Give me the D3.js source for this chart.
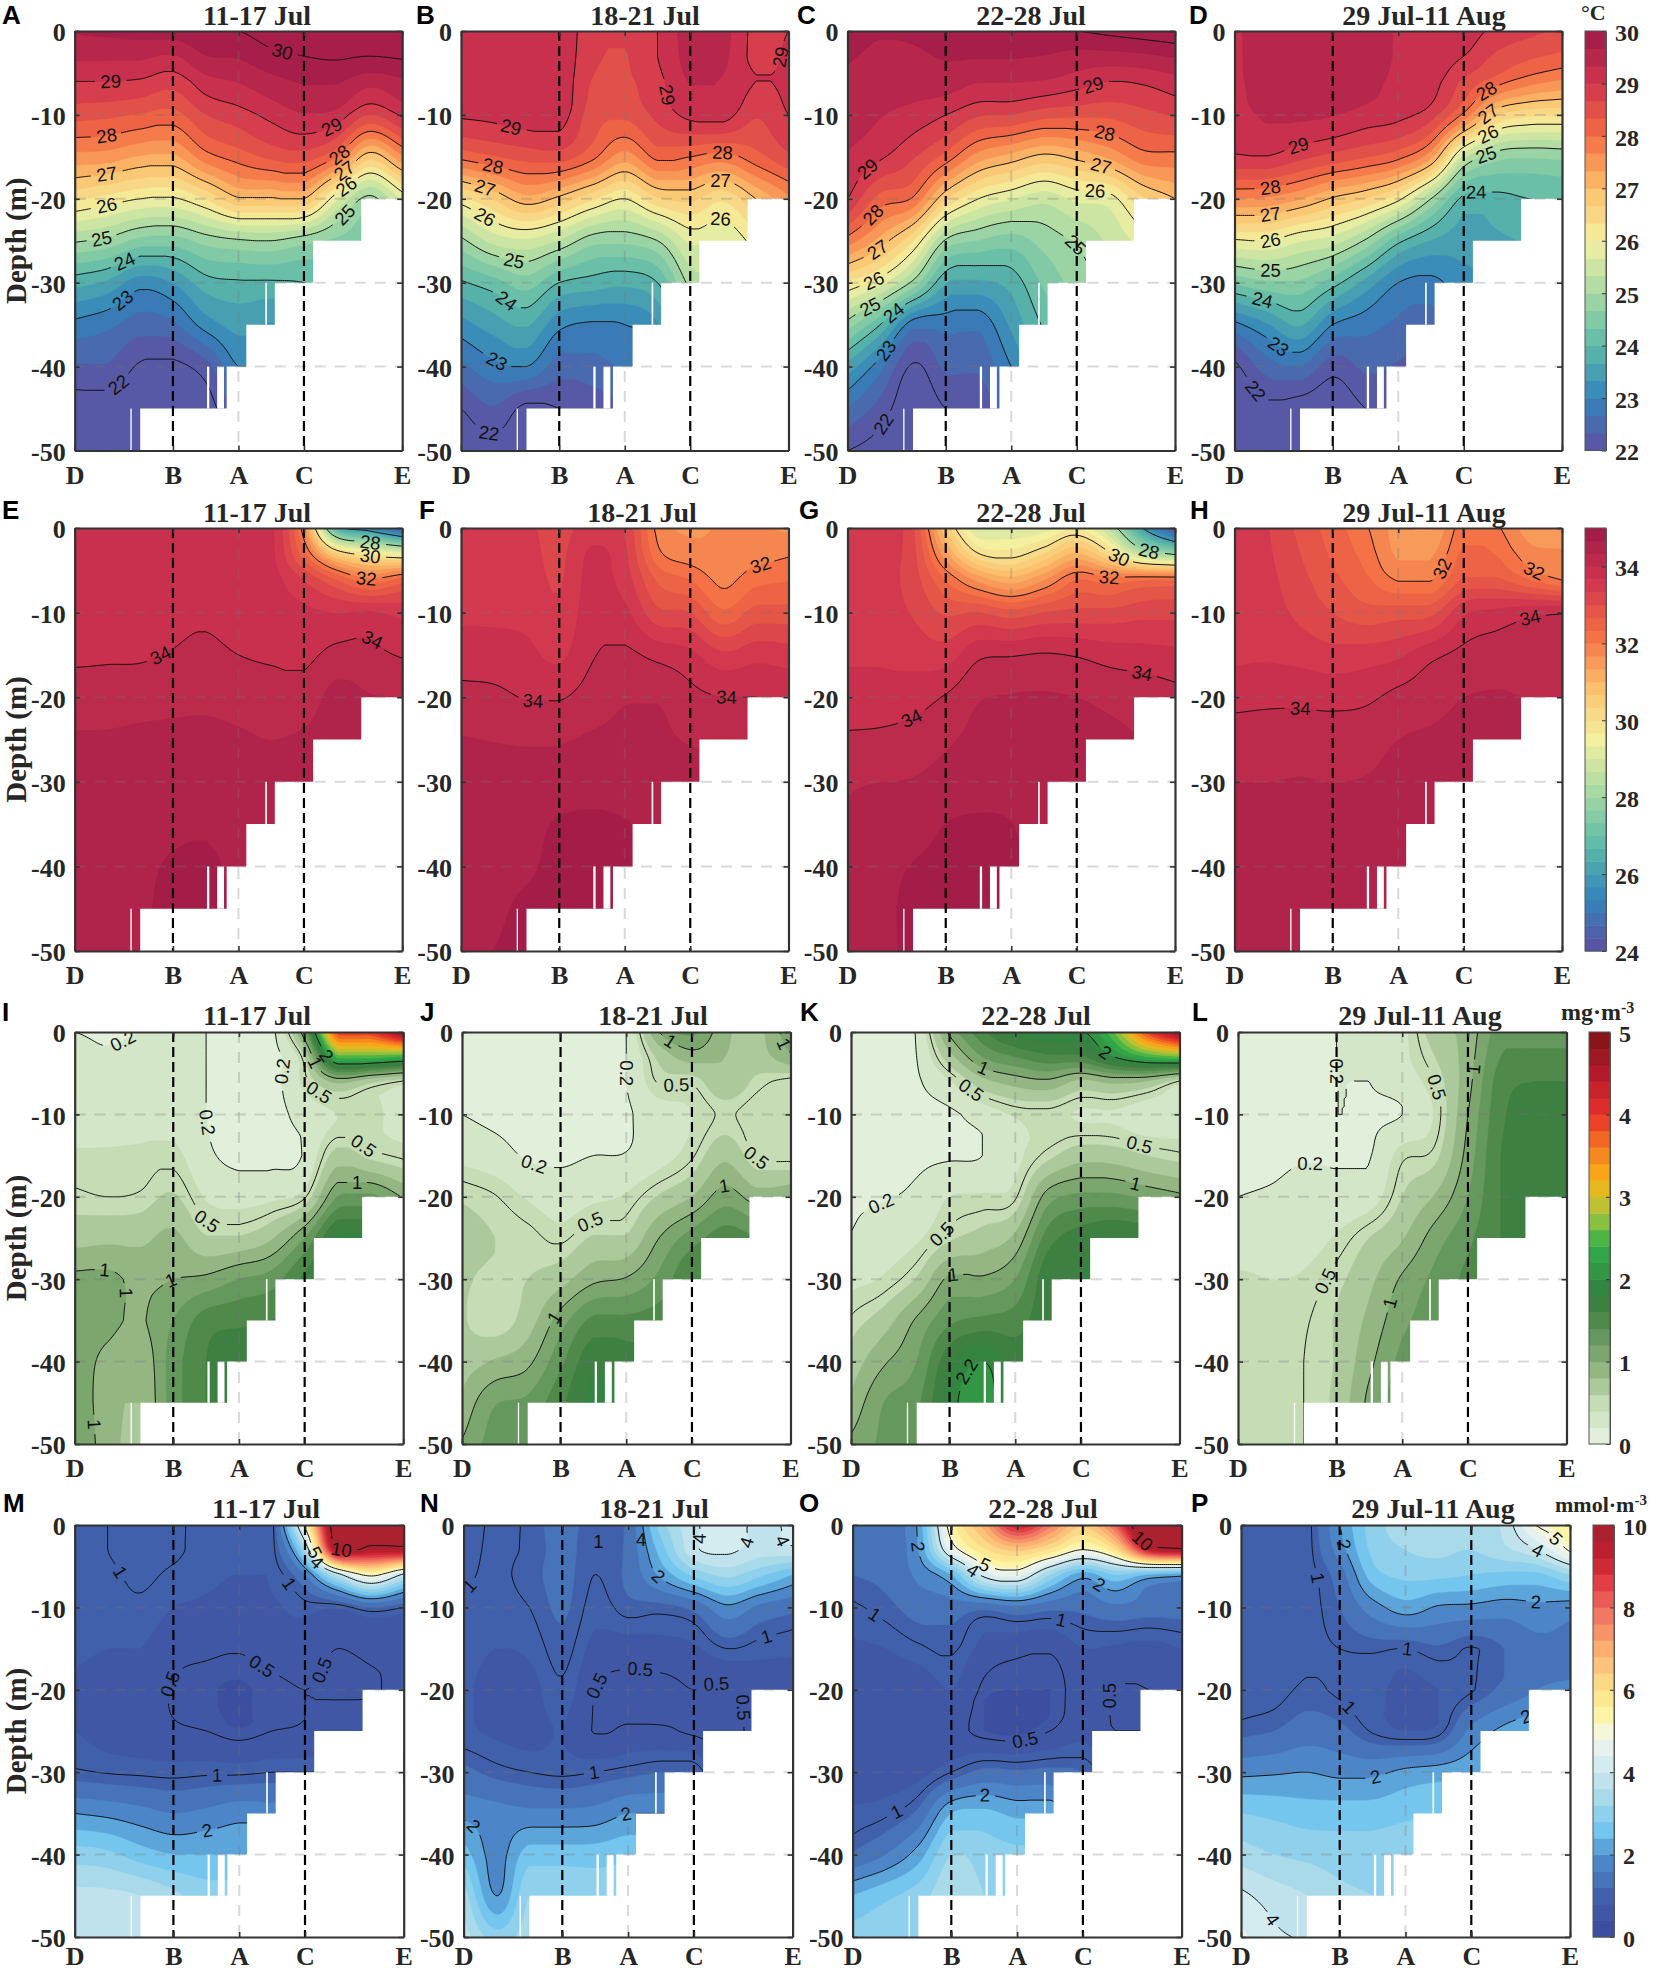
<!DOCTYPE html>
<html>
<head>
<meta charset="utf-8">
<title>Sections</title>
<script src="https://cdn.jsdelivr.net/npm/d3@7"></script>
<style>
  body { margin: 0; background: #fff; }
  svg { display: block; }
  text { font-family: "Liberation Serif", serif; font-weight: bold; fill: #262626; }
  .clabel { font-family: "Liberation Sans", sans-serif; font-weight: normal; font-size: 18.5px; fill: #111; }
  .letter { font-family: "Liberation Sans", sans-serif; font-size: 26px; fill: #000; }
</style>
</head>
<body>
<div id="root"></div>
<script>
// section stations and sampled grid (each panel = one list per column, top to bottom)
const stationX = [0, 30, 50, 70, 100];
const stationNames = ["D", "B", "A", "C", "E"];
const columnX = [0, 10, 20, 30, 40, 50, 60, 70, 80, 90, 100];
const depths = [0, 3, 6, 10, 15, 20, 25, 30, 35, 40, 45, 50];
const depthTicks = [0, -10, -20, -30, -40, -50];
const titles = ["11-17 Jul", "18-21 Jul", "22-28 Jul", "29 Jul-11 Aug"];
const letters = ["ABCD", "EFGH", "IJKL", "MNOP"];

// sea floor steps
const bottomX = [0, 20, 46.4, 52.4, 61.1, 72.8, 87.5, 100];
const bottomDepth = [50, 45, 40, 35, 30, 25, 20, 20];
const gapsX0 = [17, 40.4, 43.5, 58.2];
const gapsX1 = [17.4, 41.1, 45.6, 58.7];
const gapsTop = [45, 40, 40, 30];
const gapsBottom = [50, 45, 45, 35];

// temperature
const tempA = [
  [29.7,29.4,29,28.45,27.55,26.4,25.05,23.8,22.9,22.3,21.8,21.6],
  [29.75,29.4,29,28.4,27.5,26.2,24.9,23.6,22.75,22.3,21.8,21.6],
  [29.8,29.4,28.95,28.3,27.3,26,24.55,23.15,22.5,21.95,21.7,21.6],
  [29.85,29.3,28.8,28.2,27.25,25.95,24.5,23.35,22.6,21.9,21.6,21.5],
  [30,29.65,29.2,28.65,27.85,26.35,24.8,23.85,23.15,22.2,21.8,21.7],
  [30,29.7,29.35,28.85,28.15,26.95,24.95,23.95,23.45,23,22.4,22],
  [30.2,29.9,29.55,29.1,28.4,26.95,25,23.95,23.3,22.8,22.4,22],
  [30.3,30,29.7,29.3,28.5,27,24.8,24,23.5,23,22.6,22.2],
  [30.35,30.05,29.7,29.2,28,25.75,24.6,24.2,23.8,23.4,23,22.6],
  [30.4,30,29.45,28.65,26.8,24.9,24.5,24.2,23.9,23.6,23.3,23],
  [30.4,30.05,29.6,29.05,27.6,25.75,24.9,24.5,24.2,23.9,23.6,23.3]
];
const tempB = [
  [29.25,29.25,29.2,29.05,28.1,26.2,24.9,23.95,23.2,22.6,22,21.7],
  [29.28,29.28,29.25,29.1,28.3,26.7,25.45,24.2,23.5,22.9,22.3,21.8],
  [29.28,29.28,29.28,29.2,28.45,27.2,25.6,24.5,23.7,23,21.9,21.7],
  [29.25,29.25,29.25,29.18,28.5,26.9,25.3,24,23.1,22.5,22,21.7],
  [28.8,28.75,28.65,28.5,28.1,26.4,24.8,23.85,22.95,22.55,22.1,21.9],
  [28.7,28.65,28.6,28.4,27.5,26,24.75,23.75,23,22.7,22.3,22],
  [29,29,28.9,28.75,28.1,26.6,25,24,23.3,22.8,22.4,22],
  [29.5,29.45,29.35,29.1,28,26.75,25.75,25.1,24.6,24.2,23.8,23.4],
  [29.45,29.4,29.3,29.15,27.85,26.4,25.7,25.3,24.9,24.5,24.1,23.7],
  [28.9,28.9,29,28.7,28.2,27,26.2,25.8,25.4,25,24.6,24.2],
  [29,29.05,29.05,29,28.6,27.6,27.2,26.8,26.4,26,25.6,25.2]
];
const tempC = [
  [29.8,29.7,29.6,29.5,29.3,29,27.85,26.3,24.85,23.55,22.65,22],
  [29.7,29.6,29.5,29.35,29.05,28.2,27.2,25.8,24,22.8,22.2,21.8],
  [29.75,29.6,29.5,29.2,28.7,27.95,26.35,24.9,22.8,21.95,21.7,21.6],
  [29.9,29.7,29.5,29,28.2,26.7,24.95,23.7,22.8,22.4,22,21.8],
  [30,29.7,29.35,28.7,27.5,26,24.65,23.6,22.75,22.4,22.1,21.9],
  [30,29.7,29.35,28.65,27.2,25.7,24.5,23.8,23.4,23,22.6,22.3],
  [30,29.65,29.3,28.45,26.9,25.45,24.8,24.4,24.05,23.7,23.3,23],
  [30,29.55,29.15,28.4,27.1,25.75,25.05,24.8,24.5,24.2,23.9,23.6],
  [30.1,29.55,29,28.4,27.4,25.85,25.4,25.1,24.8,24.5,24.2,23.9],
  [30.2,29.6,29.05,28.55,27.85,26.6,25.8,25.5,25.2,24.9,24.6,24.3],
  [30.3,29.7,29.2,28.7,27.9,27,26.2,25.8,25.5,25.2,24.9,24.6]
];
const tempD = [
  [29.25,29.25,29.25,29.2,28.95,27.65,25.95,24.4,22.9,21.9,21.6,21.5],
  [29.55,29.55,29.5,29.38,28.98,27.6,26,24.6,23.3,22.5,21.9,21.6],
  [29.55,29.55,29.55,29.4,28.75,27.35,25.7,24.6,23.7,22.65,21.8,21.6],
  [29.55,29.55,29.55,29.35,28.55,26.95,25.5,24.15,23,22.15,21.7,21.6],
  [29.55,29.5,29.45,29.2,28.35,26.65,24.95,23.55,22.8,22.4,22,21.8],
  [29.3,29.3,29.25,29.1,28.1,26.1,24.1,23,22.6,22.3,22.1,21.9],
  [29.25,29.2,29.15,28.8,27.4,25,23.65,22.9,22.5,22.2,22,21.9],
  [29.2,29,28.6,27.9,25.45,23.9,23.5,23.2,22.9,22.6,22.4,22.2],
  [28.9,28.6,28.15,26.7,24.8,23.9,23.6,23.3,23,22.7,22.5,22.3],
  [28.75,28.4,27.8,26.4,24.7,24,23.7,23.4,23.1,22.8,22.6,22.4],
  [28.6,28.25,27.6,26.35,24.75,24.05,23.8,23.5,23.2,22.9,22.7,22.5]
];

// salinity
const salE = [
  [33.85,33.85,33.85,33.87,33.95,34.15,34.37,34.45,34.5,34.55,34.55,34.55],
  [33.85,33.85,33.85,33.88,33.97,34.13,34.38,34.45,34.5,34.55,34.6,34.6],
  [33.87,33.87,33.87,33.9,33.97,34.17,34.42,34.5,34.55,34.6,34.62,34.62],
  [33.9,33.9,33.9,33.93,34.02,34.22,34.43,34.52,34.6,34.7,34.75,34.75],
  [33.92,33.92,33.92,33.95,34.08,34.25,34.43,34.52,34.62,34.72,34.75,34.75],
  [33.8,33.8,33.82,33.85,34,34.2,34.38,34.48,34.55,34.6,34.65,34.65],
  [33.75,33.75,33.78,33.82,33.95,34.17,34.33,34.45,34.5,34.55,34.6,34.6],
  [31.7,32.4,33.3,33.75,33.92,34.15,34.38,34.45,34.5,34.55,34.6,34.6],
  [26.5,30.4,32.6,33.65,34.1,34.45,34.5,34.55,34.55,34.55,34.6,34.6],
  [25.5,29.7,32,33.7,34.08,34.35,34.45,34.5,34.5,34.55,34.55,34.55],
  [24.2,29.3,32.4,33.55,33.97,34.33,34.4,34.45,34.5,34.5,34.55,34.55]
];
const salF = [
  [33.45,33.48,33.52,33.6,33.85,34.1,34.35,34.45,34.5,34.55,34.6,34.63],
  [33.45,33.48,33.52,33.6,33.82,34.08,34.32,34.45,34.52,34.58,34.62,34.67],
  [33.4,33.45,33.5,33.58,33.75,33.98,34.3,34.42,34.55,34.62,34.72,34.75],
  [33.2,33.25,33.3,33.4,33.6,33.97,34.3,34.48,34.7,34.75,34.78,34.78],
  [33.5,33.72,33.78,33.85,33.97,34.15,34.38,34.58,34.7,34.75,34.78,34.78],
  [33.3,33.4,33.5,33.75,34.07,34.3,34.42,34.55,34.68,34.72,34.75,34.75],
  [31.9,32.1,32.6,33.1,33.9,34.3,34.4,34.5,34.6,34.62,34.62,34.62],
  [31.6,31.8,32.3,33,33.75,34.1,34.3,34.5,34.55,34.6,34.6,34.6],
  [31.7,31.8,31.9,32.4,33.4,34,34.25,34.4,34.5,34.55,34.55,34.55],
  [31.7,31.85,32.2,32.8,33.55,34,34.25,34.4,34.5,34.5,34.5,34.5],
  [31.6,31.95,32.3,32.8,33.5,33.9,34.1,34.3,34.4,34.45,34.5,34.5]
];
const salG = [
  [33.45,33.45,33.47,33.55,33.62,33.82,34.05,34.3,34.35,34.4,34.45,34.5],
  [33.45,33.45,33.47,33.52,33.62,33.8,34.08,34.33,34.45,34.55,34.6,34.6],
  [33.05,33.1,33.15,33.3,33.55,33.85,34.15,34.35,34.5,34.68,34.72,34.72],
  [30.6,31.4,32.3,32.95,33.5,34.03,34.28,34.45,34.67,34.75,34.78,34.78],
  [28.9,30,31.5,33,33.92,34.3,34.42,34.55,34.7,34.75,34.78,34.78],
  [29,29.8,31.1,32.8,33.97,34.35,34.45,34.55,34.67,34.7,34.72,34.72],
  [29.1,30.3,31.6,33,34.03,34.36,34.45,34.5,34.55,34.6,34.6,34.6],
  [29.6,31,32.3,33.1,33.97,34.33,34.45,34.5,34.55,34.55,34.55,34.55],
  [28.5,30.1,32.1,33.1,33.85,34.25,34.4,34.5,34.5,34.5,34.5,34.5],
  [26,28.5,32.2,33.2,33.8,34.2,34.33,34.45,34.5,34.5,34.5,34.5],
  [24,27.8,32.2,33.2,33.75,34.1,34.25,34.4,34.45,34.5,34.5,34.5]
];
const salH = [
  [33.5,33.5,33.5,33.52,33.6,33.9,34.15,34.33,34.42,34.48,34.5,34.52],
  [33.35,33.38,33.42,33.48,33.62,33.93,34.15,34.33,34.45,34.5,34.55,34.55],
  [32.9,33,33.1,33.25,33.55,33.93,34.15,34.35,34.45,34.52,34.55,34.55],
  [32.5,32.6,32.75,33,33.45,33.9,34.15,34.33,34.45,34.52,34.55,34.55],
  [32.05,32.2,32.4,32.8,33.5,33.93,34.2,34.35,34.45,34.5,34.55,34.55],
  [31.5,31.6,31.95,32.85,33.6,34.1,34.33,34.42,34.47,34.5,34.52,34.52],
  [31.3,31.6,31.95,32.9,33.9,34.2,34.38,34.45,34.47,34.5,34.5,34.5],
  [32.2,32.4,32.7,33.6,34.1,34.33,34.42,34.45,34.47,34.5,34.5,34.5],
  [32.05,32.3,32.7,33.75,34.2,34.35,34.4,34.45,34.45,34.45,34.45,34.45],
  [31.5,31.8,32.3,33.9,34.2,34.33,34.4,34.42,34.45,34.45,34.45,34.45],
  [31.5,31.7,31.95,33.97,34.2,34.33,34.4,34.42,34.45,34.45,34.45,34.45]
];

// chlorophyll
const chlI = [
  [.2,.25,.3,.32,.42,.53,.72,1.05,1.1,1.1,1.15,1.2],
  [.18,.22,.3,.32,.42,.5,.75,1.05,1.05,.95,.9,.9],
  [.2,.25,.3,.33,.43,.52,.75,.95,.98,.85,.8,.75],
  [.25,.27,.3,.33,.45,.62,.85,1,1.2,1.3,1.3,1.3],
  [.2,.2,.2,.2,.24,.38,.62,1.05,1.5,1.6,1.6,1.6],
  [.15,.15,.14,.13,.15,.33,.62,1.2,1.55,1.75,1.75,1.7],
  [.14,.14,.13,.13,.15,.36,.78,1.3,1.6,1.7,1.7,1.7],
  [1.2,.6,.45,.28,.22,.48,1.2,1.65,1.7,1.7,1.7,1.7],
  [3.9,2.5,.85,.4,.68,1.2,1.85,1.9,1.9,1.9,1.9,1.9],
  [4,2.5,.65,.42,.55,1.25,1.8,1.85,1.85,1.85,1.85,1.85],
  [4.8,2.4,.48,.35,.47,.98,1.6,1.8,1.8,1.8,1.8,1.8]
];
const chlJ = [
  [.15,.15,.16,.2,.35,.58,.65,.62,.62,.7,.85,1.02],
  [.15,.15,.15,.16,.28,.51,.6,.57,.5,.82,1.18,1.3],
  [.13,.13,.13,.14,.18,.38,.55,.6,.7,.95,1.25,1.4],
  [.14,.14,.14,.13,.17,.3,.47,.72,1.1,1.35,1.55,1.6],
  [.13,.13,.13,.14,.2,.36,.62,.95,1.45,1.75,1.85,1.8],
  [.2,.2,.2,.18,.21,.42,.62,1.02,1.45,1.7,1.75,1.75],
  [1,.65,.52,.3,.32,.62,1,1.25,1.5,1.6,1.6,1.6],
  [1.25,.9,.52,.4,.48,.8,1.3,1.6,1.6,1.6,1.6,1.6],
  [.85,.8,.75,.52,.75,1.1,1.5,1.6,1.6,1.6,1.6,1.6],
  [.75,.72,.55,.42,.48,.9,1.4,1.55,1.55,1.55,1.55,1.55],
  [1.15,.95,.45,.4,.45,.95,1.3,1.5,1.5,1.5,1.5,1.5]
];
const chlK = [
  [.15,.15,.15,.15,.16,.18,.21,.35,.52,.68,.85,1.05],
  [.15,.15,.15,.15,.16,.19,.3,.42,.7,.97,1.2,1.25],
  [.22,.2,.18,.16,.17,.24,.37,.62,1.03,1.2,1.35,1.4],
  [1.05,.72,.38,.17,.18,.4,.57,1.05,1.35,1.75,1.9,1.9],
  [1.55,1.2,.72,.28,.2,.42,.68,1.03,1.45,2,2.15,2.1],
  [1.9,1.4,.88,.42,.35,.48,.85,1.2,1.5,1.7,1.7,1.7],
  [1.95,1.55,.95,.45,.55,1.1,1.5,1.75,1.75,1.75,1.75,1.75],
  [1.95,1.55,.75,.38,.72,1.25,1.7,1.8,1.8,1.8,1.8,1.8],
  [2.6,2,.85,.38,.7,1.25,1.8,1.85,1.85,1.85,1.85,1.85],
  [3.9,2.4,.78,.3,.6,1.15,1.75,1.8,1.8,1.8,1.8,1.8],
  [4.8,2.6,.48,.3,.53,1.05,1.6,1.75,1.75,1.75,1.75,1.75]
];
const chlL = [
  [.13,.13,.13,.14,.17,.2,.3,.42,.42,.42,.42,.42],
  [.13,.13,.13,.14,.17,.22,.33,.4,.42,.42,.42,.42],
  [.14,.14,.14,.15,.19,.25,.32,.42,.48,.5,.5,.5],
  [.2,.2,.2,.2,.19,.25,.42,.55,.62,.62,.65,.65],
  [.24,.22,.2,.18,.19,.3,.6,.75,.85,.95,1.05,1.05],
  [.35,.35,.3,.2,.47,.6,.78,1.03,1.15,1.25,1.3,1.3],
  [.7,.6,.5,.42,.55,.82,1.1,1.25,1.3,1.3,1.3,1.3],
  [.88,.9,.93,1,1.08,1.2,1.35,1.45,1.45,1.45,1.45,1.45],
  [1.3,1.4,1.5,1.55,1.6,1.6,1.6,1.6,1.6,1.6,1.6,1.6],
  [1.3,1.45,1.6,1.7,1.7,1.7,1.7,1.7,1.7,1.7,1.7,1.7],
  [1.3,1.45,1.6,1.7,1.75,1.7,1.7,1.7,1.7,1.7,1.7,1.7]
];

// nitrate
const no3M = [
  [.85,.85,.9,.9,.85,.75,.8,1.05,2,3,3.7,3.8],
  [1,1,.95,.9,.8,.7,.72,.98,1.9,2.9,3.7,3.9],
  [1.05,1.1,1.05,.95,.8,.65,.65,.95,1.75,2.6,3.6,3.8],
  [1.05,1.05,.95,.8,.6,.48,.55,.92,1.6,2.4,3.3,3.5],
  [.9,.9,.85,.75,.55,.42,.5,.95,1.7,2.4,3,3.2],
  [.85,.85,.8,.7,.52,.38,.42,.95,1.85,2.4,3,3.2],
  [.9,.9,.85,.75,.6,.45,.5,1,1.8,2.4,3,3.2],
  [5.2,3.4,1.6,.9,.65,.5,.55,1,1.8,2.4,3,3.2],
  [11,10,3.8,.85,.5,.45,.75,1,1.8,2.4,3,3.2],
  [11,9.6,5.2,1.2,.6,.48,.7,1,1.8,2.4,3,3.2],
  [11,9.6,3.9,1,.65,.55,.7,1,1.8,2.4,3,3.2]
];
const no3N = [
  [1.15,1.1,1.05,.95,.9,.85,.85,1.3,1.9,2.6,3.4,3.8],
  [.95,.95,.95,.9,.8,.7,.75,1.1,1.75,1.85,2,3],
  [1.05,1.05,1.1,1,.85,.7,.7,1,1.7,2.6,3.2,3.4],
  [1.35,1.3,1.3,1.25,1.1,.95,.8,.95,1.7,2.6,3.2,3.4],
  [1.05,1.05,1,.9,.7,.5,.48,1,1.75,2.6,3.1,3.3],
  [1.3,1.3,1.3,1.1,.65,.42,.55,1.1,2,2.7,3.1,3.3],
  [3,2.6,2.1,1.1,.7,.42,.55,1.2,2,2.7,3.1,3.3],
  [3.9,3.9,2.9,1.3,.75,.5,.45,1.2,2,2.7,3.1,3.3],
  [4.2,4.1,3.3,1.9,1,.45,.4,.45,2,2.7,3.1,3.3],
  [3.9,3.8,2.9,1.5,.9,.65,.6,.6,2,2.7,3.1,3.3],
  [4.1,3.9,2.4,1.3,.85,.7,.65,.65,2,2.7,3.1,3.3]
];
const no3O = [
  [1.3,1.3,1.2,.95,.75,.6,.55,.65,.85,1.25,2.4,3],
  [1.4,1.35,1.3,1.1,.8,.6,.55,.65,.95,1.6,2.7,3.1],
  [2.1,2,1.7,1.35,.95,.6,.5,.7,1.3,2.2,3,3.2],
  [5.4,4.6,2.4,1.4,1.05,.8,.6,1,2.4,3.2,3.5,3.5],
  [7,5.9,4.2,1.3,.7,.45,.4,1.3,2.5,3,3.2,3.2],
  [9.2,6.5,4.6,1.5,.6,.4,.35,1.25,2.3,2.9,3.1,3.1],
  [7.8,5.9,3.2,1.3,.55,.4,.5,1.3,2.3,2.9,3.1,3.1],
  [6.5,5,2.2,1.3,.8,.6,.7,1.2,1.8,2.9,3.1,3.1],
  [8.2,6,2.8,1.5,.75,.48,.5,.8,1.8,2.9,3.1,3.1],
  [12,9.2,2.4,1.4,.7,.5,.5,.8,1.8,2.9,3.1,3.1],
  [12,9.8,2.2,1.4,.8,.55,.55,.8,1.8,2.9,3.1,3.1]
];
const no3P = [
  [.85,.85,.85,.85,.85,.9,1.1,1.9,2.8,3.4,4.1,4.5],
  [.85,.85,.85,.85,.85,.9,1.2,1.95,2.7,3.2,3.8,4.1],
  [.9,.9,.9,.9,.95,1.05,1.4,2,2.6,3.1,3.6,3.9],
  [2,1.8,1.4,1.2,1,.95,1.3,1.9,2.6,3,3.3,3.4],
  [3,2.9,2.6,1.8,1.05,.85,.97,1.9,2.6,3,3.2,3.2],
  [3.4,3.2,2.9,2.2,1,.75,.8,2.1,2.7,3.1,3.2,3.2],
  [3.5,3.3,2.9,1.95,1.15,.8,.9,2.2,2.8,3.1,3.2,3.2],
  [3.4,3.2,2.8,1.9,.98,.97,1.7,2.3,2.8,3.1,3.2,3.2],
  [3.7,3.5,2.7,1.8,1.2,1.3,2.1,2.4,2.8,3.1,3.2,3.2],
  [5.05,4,2.7,1.9,1.5,1.6,2.3,2.5,2.8,3.1,3.2,3.2],
  [5.5,5.1,3.2,1.8,1.5,1.7,2.4,2.6,2.8,3.1,3.2,3.2]
];

// inline contour labels: level, x, depth, optional text
const labelsA = [[29,11,6],[28,10,13],[27,10,17.4],[26,10,21],[25,8,24.6],[24,15,27.3],[23,14,31.7],[22,13,42],[30,64,1.5],[29,79,11.8],[28,80,14.4],[27,81,16.2],[26,82,17.8],[25,80,21]];
const labelsB = [[29,15,11.8],[29,58,7.9],[29,96,3],[28,10,16],[27,7.5,18.8],[26,8,21.8],[25,16.5,27],[24,14,32],[23,12,38.8],[22,9,47.5],[28,80,14.6],[27,79,17.6],[26,79,21]];
const labelsC = [[29,7,17],[28,8,22],[27,8.5,25.6],[26,7.5,29.3],[25,7,33],[24,14,33.5],[23,12,38],[22,8,46],[29,75,6.5],[28,78,13],[27,77.5,16],[26,75.5,18.7],[25,70,25.3]];
const labelsD = [[29,19.5,14],[28,11,18.8],[27,11,21.8],[26,11,24.8],[25,11,28.5],[24,8,32.6],[23,13,37.7],[22,6,43],[28,77,7],[27,77,9.5],[26,77,12],[25,77,14.9],[24,74,19.5]];
const labelsE = [[34,27,15.9],[34,90,13.8],[32,89,5.9],[30,90,3.7],[28,90,2.4]];
const labelsF = [[34,22,20],[34,81,17.3],[32,91,4]];
const labelsG = [[34,20,22.7],[34,90,17],[32,80,5.7],[30,82.5,3.6],[28,92,3]];
const labelsH = [[34,20,20.2],[34,90,10.6],[32,62,4.6],[32,91,5.5]];
const labelsI = [[.2,16,2],[.2,39,11],[.2,68,5],[.5,76,6.2],[2,77,2.8],[1,74,3.5],[.5,90,12.7],[1,86,16.5],[.5,40,23],[1,9,27],[1,18,31.7],[1,28,28.7],[1,7,47.5]];
const labelsJ = [[.2,22,16.3],[.2,50,5],[.5,40,23.8],[1,29,34.8],[1,62,2],[.5,65,6.6],[1,95,2],[.5,90,15.3],[1,80,17.7]];
const labelsK = [[.2,9.5,21.4],[.5,28,24.6],[1,31,29.5],[1,40,4.8],[.5,36.5,7.2],[2,78,2.3],[.5,87.5,14.5],[1,87,17.7],[2,38,42,"2.2"]];
const labelsL = [[.2,31,4.7],[.5,58,7],[.2,22,17.7],[.5,28,30.5],[1,46,32.8],[1,72,4.6]];
const labelsM = [[1,17,4.9],[1,68.7,6],[10,81,2.4],[5,71.5,3.6],[4,75,4],[.5,30,19.3],[.5,56,17.8],[.5,77,17.8],[1,43,30.5],[2,39.5,36]];
const labelsN = [[1,4,8.4],[1,41,2],[4,54,1.8],[4,74,1.8],[4,84,1.8],[4,97,1.8],[2,61,5.6],[1,90,10.6],[.5,40,19.3],[.5,54,14.7],[.5,77,21.6],[.5,81,22.3],[1,40,31],[2,49,34.5],[2,5,35.7]];
const labelsO = [[2,19,2.6],[4,36,5.9],[5,40,4.9],[10,87,2.5],[2,75,7.3],[1,8,10],[1,63,11.7],[.5,51,23],[.5,81,20.8],[1,13,34.5],[2,40,31.8]];
const labelsP = [[2,31,2.3],[1,22.6,6.4],[2,90,7.6],[4,90,3],[5,94,2.3],[1,50,16.3],[1,34,21.6],[2,39,27.7],[2,85,20.8],[4,9,48]];

// colour maps, one per row of panels
const chlStops = [0,.5,1,1.5,1.8,2,2.4,2.8,3.2,3.6,4,4.5,5];
const chlColors = ["#e9f4e3","#c5dcb5","#86ad76","#4f8a4a","#357a3e","#338e44","#2fae49","#a8c63c","#fbb316","#f47b20","#e8302a","#b31b2c","#7e1416"];
const no3Stops = [0,1,2,2.5,3.5,4.5,5,5.5,6.2,7,8,8.6,9.2,10];
const no3Colors = ["#3b4a9c","#4160ab","#4f90cf","#6ec4ee","#b0dcea","#e4f1f3","#f5f7d8","#fff39a","#fdd886","#fcae70","#ee6a5e","#e33d45","#c4202f","#a4212f"];
const spectralStops = [0,.125,.25,.375,.5,.625,.75,.875,1];
const spectralColors = ["#5e4fa2","#3384bb","#5dbaa8","#a6d9a4","#f3f0a0","#fcc06c","#f46d43","#d0344f","#9e1a48"];

const rows = [
  { grids: [tempA, tempB, tempC, tempD], labels: [labelsA, labelsB, labelsC, labelsD], lo: 22, hi: 30, step: 1 / 3,
    lines: [22,23,24,25,26,27,28,29,30], barTicks: [22,23,24,25,26,27,28,29,30],
    color: d3.scaleLinear().domain(spectralStops.map(t => 22 + 8 * t)).range(spectralColors) },
  { grids: [salE, salF, salG, salH], labels: [labelsE, labelsF, labelsG, labelsH], lo: 24, hi: 35, step: 1 / 3,
    lines: [24,26,28,30,32,34], barTicks: [24,26,28,30,32,34],
    color: d3.scaleLinear().domain(spectralStops.map(t => 24 + 11 * t)).range(spectralColors) },
  { grids: [chlI, chlJ, chlK, chlL], labels: [labelsI, labelsJ, labelsK, labelsL], lo: 0, hi: 5, step: .2,
    lines: [.2,.5,1,2], barTicks: [0,1,2,3,4,5],
    color: d3.scaleLinear().domain(chlStops).range(chlColors) },
  { grids: [no3M, no3N, no3O, no3P], labels: [labelsM, labelsN, labelsO, labelsP], lo: 0, hi: 10, step: .4,
    lines: [.5,1,2,4,5,10], barTicks: [0,2,4,6,8,10],
    color: d3.scaleLinear().domain(no3Stops).range(no3Colors) }
];

// page layout
const width = 1653, height = 1970;
const rowTop = [31, 528, 1032, 1525];
const rowBottom = [450.5, 951, 1444, 1937];
const panelLeft = [[74.7,461,847.5,1234.5],[74.7,461,847.5,1234.5],[74.7,462,851,1238],[74.7,463.6,852.6,1241]];
const panelW = [327.5, 327.5, 328.5, 329];
const titleX = [[257,645,1031,1424],[257,642,1031,1424],[257,653,1036,1420],[266,654,1043,1433]];
const titleY = [25, 522, 1025, 1518];
const letterX = [[2,416,797,1189],[2,419,799,1190],[2,420,800,1192],[3,420,799,1191]];
const letterY = [24, 519, 1021, 1512];
const xLabelPad = [15, 15, 15, 10];
const barX = [1585, 1585, 1589, 1593];
const barW = 21;

const nx = 165, ny = 211;

function cubic(a, t) {
  const n = a.length - 1;
  const i = Math.min(Math.floor(t), n - 1);
  const f = t - i;
  const p1 = a[i], p2 = a[i + 1];
  const p0 = i > 0 ? a[i - 1] : 2 * p1 - p2;
  const p3 = i < n - 1 ? a[i + 2] : 2 * p2 - p1;
  const v = 0.5 * (2 * p1 + (p2 - p0) * f + (2 * p0 - 5 * p1 + 4 * p2 - p3) * f * f + (3 * p1 - p0 - 3 * p2 + p3) * f * f * f);
  return Math.max(Math.min(p1, p2), Math.min(Math.max(p1, p2), v));
}

// read the grid on a fine mesh so d3.contours gives smooth outlines
function fineValues(grid) {
  const rowIndex = d3.scaleLinear().domain(depths).range(d3.range(depths.length));
  const colIndex = d3.scaleLinear().domain(columnX).range(d3.range(columnX.length));
  const values = new Float64Array(nx * ny);
  for (let j = 0; j < ny; j++) {
    const v = rowIndex(50 * j / (ny - 1));
    const across = grid.map(col => cubic(col, v));
    for (let i = 0; i < nx; i++) values[i + j * nx] = cubic(across, colIndex(100 * i / (nx - 1)));
  }
  return values;
}

const svg = d3.select("#root").append("svg").attr("width", width).attr("height", height);

function drawPanel(rowIdx, colIdx) {
  const row = rows[rowIdx];
  const left = panelLeft[rowIdx][colIdx], top = rowTop[rowIdx], bottom = rowBottom[rowIdx];
  const x = d3.scaleLinear().domain([0, 100]).range([left, left + panelW[rowIdx]]);
  const y = d3.scaleLinear().domain([0, -50]).range([top, bottom]);
  const gx = g => x((g - 0.5) / (nx - 1) * 100);
  const gy = g => y(-(g - 0.5) / (ny - 1) * 50);
  const project = d3.geoTransform({ point(a, b) { this.stream.point(gx(a), gy(b)); } });
  const path = d3.geoPath(project);

  const values = fineValues(row.grids[colIdx]);
  const clipId = `clip${rowIdx}${colIdx}`;
  svg.append("clipPath").attr("id", clipId).append("rect")
    .attr("x", x(0)).attr("y", y(0)).attr("width", x(100) - x(0)).attr("height", y(-50) - y(0));

  const g = svg.append("g").attr("clip-path", `url(#${clipId})`);

  // filled bands
  const levels = d3.range(Math.round((row.hi - row.lo) / row.step)).map(k => row.lo + k * row.step);
  const bandColor = k => row.color(levels[k] + row.step / 2);
  g.append("rect").attr("x", x(0)).attr("y", y(0)).attr("width", x(100) - x(0)).attr("height", y(-50) - y(0))
    .attr("fill", bandColor(0));
  const bands = d3.contours().size([nx, ny]).thresholds(levels.slice(1))(values);
  g.selectAll("path.band").data(bands).enter().append("path")
    .attr("class", "band")
    .attr("d", path)
    .attr("fill", (d, k) => bandColor(k + 1))
    .attr("stroke", (d, k) => bandColor(k + 1))
    .attr("stroke-width", 0.4);

  // black contour lines, cut at the labels
  const labels = row.labels[colIdx];
  const polylines = new Map();
  row.lines.forEach(level => {
    const c = d3.contours().size([nx, ny]).thresholds([level])(values)[0];
    const out = [];
    c.coordinates.forEach(poly => poly.forEach(ring => {
      let cur = [];
      ring.forEach(p => {
        if (p[0] <= 0 || p[0] >= nx || p[1] <= 0 || p[1] >= ny) {
          if (cur.length > 1) out.push(cur);
          cur = [];
        } else cur.push([gx(p[0]), gy(p[1])]);
      });
      if (cur.length > 1) out.push(cur);
    }));
    polylines.set(level, out);
  });

  const placed = labels.map(l => {
    const [level, lx, ld, txt] = l;
    const px = x(lx), py = y(-ld);
    let best = null, bestD = 1e9;
    (polylines.get(level) || []).forEach(line => line.forEach((p, i) => {
      const d = Math.hypot(p[0] - px, p[1] - py);
      if (d < bestD) { bestD = d; best = [line, i]; }
    }));
    const item = { text: txt || String(level), level, x: px, y: py, angle: 0 };
    if (best && bestD < 30) {
      const [line, i] = best;
      const a = line[Math.max(0, i - 4)], b = line[Math.min(line.length - 1, i + 4)];
      item.x = line[i][0]; item.y = line[i][1];
      let ang = Math.atan2(b[1] - a[1], b[0] - a[0]) * 180 / Math.PI;
      if (ang > 90) ang -= 180;
      if (ang < -90) ang += 180;
      item.angle = ang;
    }
    return item;
  });

  const lineGen = d3.line();
  row.lines.forEach(level => {
    const gaps = placed.filter(p => p.level === level);
    (polylines.get(level) || []).forEach(line => {
      let cur = [];
      line.forEach(p => {
        const hit = gaps.some(l => Math.hypot(p[0] - l.x, p[1] - l.y) < l.text.length * 5.2 + 4);
        if (hit) { if (cur.length > 1) g.append("path").attr("d", lineGen(cur)).attr("fill", "none").attr("stroke", "#111").attr("stroke-width", 1); cur = []; }
        else cur.push(p);
      });
      if (cur.length > 1) g.append("path").attr("d", lineGen(cur)).attr("fill", "none").attr("stroke", "#111").attr("stroke-width", 1);
    });
  });

  g.selectAll("text.clabel").data(placed).enter().append("text")
    .attr("class", "clabel")
    .attr("text-anchor", "middle")
    .attr("dy", "0.35em")
    .attr("transform", d => `translate(${d.x},${d.y}) rotate(${d.angle})`)
    .text(d => d.text);

  // sea floor mask
  const floor = d3.area().curve(d3.curveStepAfter)
    .x((d, i) => x(bottomX[i]))
    .y0(y(-50))
    .y1((d, i) => y(-bottomDepth[i]));
  g.append("path").attr("d", floor(bottomX)).attr("fill", "#fff");
  g.selectAll("rect.gap").data(gapsX0).enter().append("rect")
    .attr("class", "gap")
    .attr("x", (d, i) => x(gapsX0[i]))
    .attr("width", (d, i) => x(gapsX1[i]) - x(gapsX0[i]))
    .attr("y", (d, i) => y(-gapsTop[i]))
    .attr("height", (d, i) => y(-gapsBottom[i]) - y(-gapsTop[i]))
    .attr("fill", "#fff");

  // faint grid
  g.selectAll("line.hgrid").data(depthTicks.slice(1, 5)).enter().append("line")
    .attr("class", "hgrid")
    .attr("x1", x(0)).attr("x2", x(100)).attr("y1", d => y(d)).attr("y2", d => y(d))
    .attr("stroke", "#777").attr("stroke-opacity", 0.28).attr("stroke-width", 2).attr("stroke-dasharray", "11 9");
  g.append("line").attr("x1", x(50)).attr("x2", x(50)).attr("y1", y(0)).attr("y2", y(-50))
    .attr("stroke", "#777").attr("stroke-opacity", 0.28).attr("stroke-width", 2).attr("stroke-dasharray", "11 9");

  // stations B and C
  g.selectAll("line.station").data([30, 70]).enter().append("line")
    .attr("class", "station")
    .attr("x1", d => x(d)).attr("x2", d => x(d)).attr("y1", y(0)).attr("y2", y(-50))
    .attr("stroke", "#000").attr("stroke-width", 2.2).attr("stroke-dasharray", "10 5");

  // axes
  const styleAxis = s => {
    s.selectAll("path.domain").attr("stroke", "#333").attr("stroke-width", 2.2);
    s.selectAll(".tick line").attr("stroke", "#333").attr("stroke-width", 1.6);
    s.selectAll("text").attr("font-size", 26).attr("font-family", "Liberation Serif").attr("font-weight", "bold").attr("fill", "#262626");
  };
  svg.append("g").attr("transform", `translate(${x(0)},0)`)
    .call(d3.axisLeft(y).tickValues(depthTicks).tickFormat(d => String(d)).tickSize(-5).tickSizeOuter(0).tickPadding(9))
    .call(styleAxis).selectAll("text").attr("dy", "0.38em");
  svg.append("g").attr("transform", `translate(${x(100)},0)`)
    .call(d3.axisRight(y).tickValues(depthTicks).tickFormat("").tickSize(-5).tickSizeOuter(0)).call(styleAxis);
  svg.append("g").attr("transform", `translate(0,${y(-50)})`)
    .call(d3.axisBottom(x).tickValues(stationX).tickFormat((d, i) => stationNames[i]).tickSize(-5).tickSizeOuter(0).tickPadding(xLabelPad[rowIdx]))
    .call(styleAxis);
  svg.append("g").attr("transform", `translate(0,${y(0)})`)
    .call(d3.axisTop(x).tickValues(stationX).tickFormat("").tickSize(-5).tickSizeOuter(0)).call(styleAxis);

  // title and panel letter
  svg.append("text").attr("x", titleX[rowIdx][colIdx]).attr("y", titleY[rowIdx]).attr("text-anchor", "middle")
    .attr("font-size", 28).attr("fill", "#000").text(titles[colIdx]);
  svg.append("text").attr("class", "letter").attr("x", letterX[rowIdx][colIdx]).attr("y", letterY[rowIdx])
    .text(letters[rowIdx][colIdx]);
  if (colIdx === 0) {
    svg.append("text").attr("transform", `translate(26,${(top + bottom) / 2}) rotate(-90)`)
      .attr("text-anchor", "middle").attr("font-size", 29).text("Depth (m)");
  }
}

function drawColorbar(rowIdx) {
  const row = rows[rowIdx];
  const left = barX[rowIdx];
  const y = d3.scaleLinear().domain([row.lo, row.hi]).range([rowBottom[rowIdx], rowTop[rowIdx]]);
  const levels = d3.range(Math.round((row.hi - row.lo) / row.step)).map(k => row.lo + k * row.step);
  svg.selectAll(`rect.bar${rowIdx}`).data(levels).enter().append("rect")
    .attr("class", `bar${rowIdx}`)
    .attr("x", left).attr("width", barW)
    .attr("y", d => y(d + row.step))
    .attr("height", d => y(d) - y(d + row.step) + 0.5)
    .attr("fill", d => row.color(d + row.step / 2));
  const axis = svg.append("g").attr("transform", `translate(${left + barW},0)`)
    .call(d3.axisRight(y).tickValues(row.barTicks).tickFormat(d => String(d)).tickSize(-4).tickSizeOuter(0).tickPadding(9));
  axis.selectAll("path.domain").attr("stroke", "#555").attr("stroke-width", 1);
  axis.selectAll(".tick line").attr("stroke", "#333");
  axis.selectAll("text").attr("font-size", 24).attr("font-family", "Liberation Serif").attr("font-weight", "bold").attr("fill", "#262626").attr("dy", "0.38em");
  svg.append("rect").attr("x", left).attr("y", rowTop[rowIdx]).attr("width", barW)
    .attr("height", rowBottom[rowIdx] - rowTop[rowIdx]).attr("fill", "none").attr("stroke", "#555").attr("stroke-width", 1);
}

rows.forEach((r, i) => {
  titles.forEach((t, j) => drawPanel(i, j));
  drawColorbar(i);
});

// units above the colour bars
svg.append("text").attr("x", 1581).attr("y", 20).attr("font-size", 22).text("°C");
const unit1 = svg.append("text").attr("x", 1561).attr("y", 1020).attr("font-size", 24);
unit1.append("tspan").text("mg·m");
unit1.append("tspan").attr("dy", -7).attr("font-size", 16).text("-3");
const unit2 = svg.append("text").attr("x", 1555).attr("y", 1512).attr("font-size", 22);
unit2.append("tspan").text("mmol·m");
unit2.append("tspan").attr("dy", -7).attr("font-size", 15).text("-3");
</script>
</body>
</html>
